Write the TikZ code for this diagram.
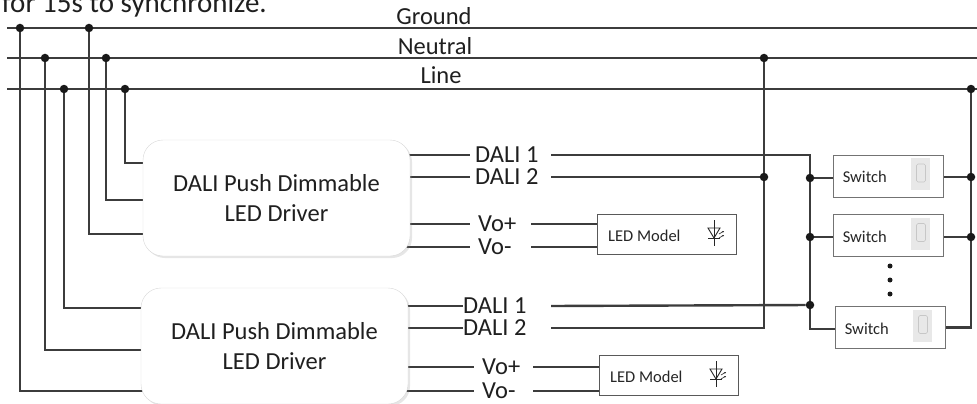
\documentclass[tikz,border=0pt]{standalone}
\usepackage{fontspec}
\setmainfont{Carlito}
\usetikzlibrary{backgrounds,shadows,calc,arrows.meta}
\definecolor{wirec}{HTML}{3C3C3C}
\tikzset{
  wire/.style={draw=wirec, line width=2.4pt},
  jdot/.style={circle, fill=black!90, inner sep=0pt, minimum size=8.5pt},
  edot/.style={circle, fill=black!90, inner sep=0pt, minimum size=5pt},
  driver/.style={draw=black!15, fill=white, rounded corners=20pt, minimum width=267pt,
    minimum height=116pt, align=center, font=\fontsize{24.5}{30}\selectfont, text=black!88,
    drop shadow={shadow xshift=2pt, shadow yshift=-2pt, opacity=0.2}},
  lbl/.style={font=\fontsize{24.5}{28}\selectfont, inner sep=0pt, text=black!88},
  note/.style={font=\fontsize{29}{32}\selectfont, inner sep=0pt, text=black!88},
  small/.style={font=\fontsize{16.5}{20}\selectfont, inner sep=0pt, text=black!85},
  ledbox/.style={draw=black!65, line width=0.9pt, fill=white, minimum width=139pt, minimum height=40pt, inner sep=0pt},
  swbox/.style={draw=black!55, line width=0.9pt, fill=white, minimum width=110pt, minimum height=42pt, inner sep=0pt},
  togbg/.style={fill=black!9, draw=none, minimum width=19pt, minimum height=32pt, inner sep=0pt},
  togfg/.style={draw=black!22, line width=0.6pt, rounded corners=1.5pt, minimum width=9pt, minimum height=18pt, inner sep=0pt},
  ledsym/.pic={
    \draw[line width=0.9pt, black!85] (0,-13)--(0,13);
    \draw[line width=0.9pt, black!85] (-6,-5)--(6,-5)--(0,5)--cycle;
    \draw[line width=0.9pt, black!85] (-6,5)--(6,5);
    \draw[line width=0.6pt, black!85, -{Stealth[length=2pt,width=2pt]}] (5,1)--(10,-2);
    \draw[line width=0.6pt, black!85, -{Stealth[length=2pt,width=2pt]}] (5,5)--(10,2);
  }
}
\begin{document}
\begin{tikzpicture}[x=1pt,y=-1pt]
\useasboundingbox (0,0) rectangle (977,404);

% partial note at the top
\node[note, anchor=base east] (note) at (267,13) {for 15s to synchronize.};

% buses
\coordinate (gA) at (7,28);  \coordinate (gB) at (977,28);
\coordinate (nA) at (7,58);  \coordinate (nB) at (977,58);
\coordinate (lA) at (7,89);  \coordinate (lB) at (977,89);
\node[lbl, anchor=base] (gl) at (434,25) {Ground};
\node[lbl, anchor=base] (nl) at (435,55) {Neutral};
\node[lbl, anchor=base] (ll) at (441,83) {Line};

% bus taps
\node[jdot] (t1) at (20,28) {};
\node[jdot] (t2) at (45,58) {};
\node[jdot] (t3) at (64,89) {};
\node[jdot] (t4) at (89,28) {};
\node[jdot] (t5) at (106,58) {};
\node[jdot] (t6) at (125,89) {};
\node[jdot] (t7) at (764,58) {};
\node[jdot] (t8) at (971,89) {};

% drivers
\node[driver] (d1) at (276.5,198) {DALI Push Dimmable\\LED Driver};
\node[driver] (d2) at (274.5,346) {DALI Push Dimmable\\LED Driver};

% driver pin coordinates (inside boxes)
\coordinate (d1i1) at (160,163); \coordinate (d1i2) at (160,200); \coordinate (d1i3) at (160,234);
\coordinate (d2i1) at (160,308); \coordinate (d2i2) at (160,350); \coordinate (d2i3) at (160,391);
\coordinate (d1o1) at (395,155); \coordinate (d1o2) at (395,177); \coordinate (d1o3) at (395,224); \coordinate (d1o4) at (395,247);
\coordinate (d2o1) at (395,306); \coordinate (d2o2) at (395,328); \coordinate (d2o3) at (395,367); \coordinate (d2o4) at (395,391);

% output labels
\node[lbl, anchor=west] (a1) at (475,155) {DALI 1};
\node[lbl, anchor=west] (a2) at (475,177) {DALI 2};
\node[lbl, anchor=west] (a3) at (478,224) {Vo+};
\node[lbl, anchor=west] (a4) at (478,247) {Vo-};
\node[lbl, anchor=west] (b1) at (463,306) {DALI 1};
\node[lbl, anchor=west] (b2) at (463,328) {DALI 2};
\node[lbl, anchor=west] (b3) at (482,367) {Vo+};
\node[lbl, anchor=west] (b4) at (482,391) {Vo-};

% far-side wire starts
\coordinate (ra1) at (551,155); \coordinate (ra2) at (551,177);
\coordinate (ra3) at (531,224); \coordinate (ra4) at (531,247);
\coordinate (rb1) at (551,306); \coordinate (rb2) at (551,328);
\coordinate (rb3) at (533,367); \coordinate (rb4) at (533,391);

% LED models
\node[ledbox] (m1) at (666.5,234) {};
\node[small, anchor=west] (m1t) at (608,236) {LED Model};
\pic at (714,233) {ledsym};
\node[ledbox] (m2) at (668.5,375.5) {};
\node[small, anchor=west] (m2t) at (610,377) {LED Model};
\pic at (716,374) {ledsym};

% switches
\node[swbox] (s1) at (888,176) {};
\node[swbox] (s2) at (888,235.5) {};
\node[swbox] (s3) at (890,327.5) {};
\foreach \s in {s1,s2,s3}{
  \node[small, anchor=west] at ($(\s.west)+(10,1)$) {Switch};
  \node[togbg] at ($(\s.east)+(-22.5,-2)$) {};
  \node[togfg] at ($(\s.east)+(-22.5,-3)$) {};
}
\node[edot] (e1) at (890,266) {};
\node[edot] (e2) at (890,280) {};
\node[edot] (e3) at (890,294) {};

% junctions
\node[jdot] (j1) at (810,178) {};
\node[jdot] (j2) at (810,237) {};
\node[jdot] (j3) at (810,305) {};
\node[jdot] (j5) at (764,177) {};
\node[jdot] (k1) at (971,177) {};
\node[jdot] (k2) at (971,237) {};
\coordinate (cA) at (810,155);
\coordinate (cB) at (810,329);

\begin{scope}[on background layer]
  \draw[wire] (gA)--(gB);
  \draw[wire] (nA)--(nB);
  \draw[wire] (lA)--(lB);
  \draw[wire] (t1) |- (d2i3);
  \draw[wire] (t2) |- (d2i2);
  \draw[wire] (t3) |- (d2i1);
  \draw[wire] (t4) |- (d1i3);
  \draw[wire] (t5) |- (d1i2);
  \draw[wire] (t6) |- (d1i1);
  \draw[wire] (d1o1) -- ($(a1.west)+(-5,0)$);
  \draw[wire] (d1o2) -- ($(a2.west)+(-5,0)$);
  \draw[wire] (d1o3) -- ($(a3.west)+(-8,0)$);
  \draw[wire] (d1o4) -- ($(a4.west)+(-8,0)$);
  \draw[wire] (d2o1) -- (b1.west);
  \draw[wire] (d2o2) -- (b2.west);
  \draw[wire] (d2o3) -- ($(b3.west)+(-8,0)$);
  \draw[wire] (d2o4) -- ($(b4.west)+(-8,0)$);
  \draw[wire] (ra3) -- (m1.west |- ra3);
  \draw[wire] (ra4) -- (m1.west |- ra4);
  \draw[wire] (rb3) -- (m2.west |- rb3);
  \draw[wire] (rb4) -- (m2.west |- rb4);
  \draw[wire] (ra1) -- (cA) -- (cB) -- (s3.west |- cB);
  \draw[wire] (ra2) -- (j5);
  \draw[wire] (t7) |- (rb2);
  \draw[wire] (rb1) -- (j3);
  \draw[wire] (j1) -- (s1.west |- j1);
  \draw[wire] (j2) -- (s2.west |- j2);
  \draw[wire] (t8) |- (s3.east);
  \draw[wire] (s1.east |- k1) -- (k1);
  \draw[wire] (s2.east |- k2) -- (k2);
\end{scope}
\end{tikzpicture}
\end{document}
